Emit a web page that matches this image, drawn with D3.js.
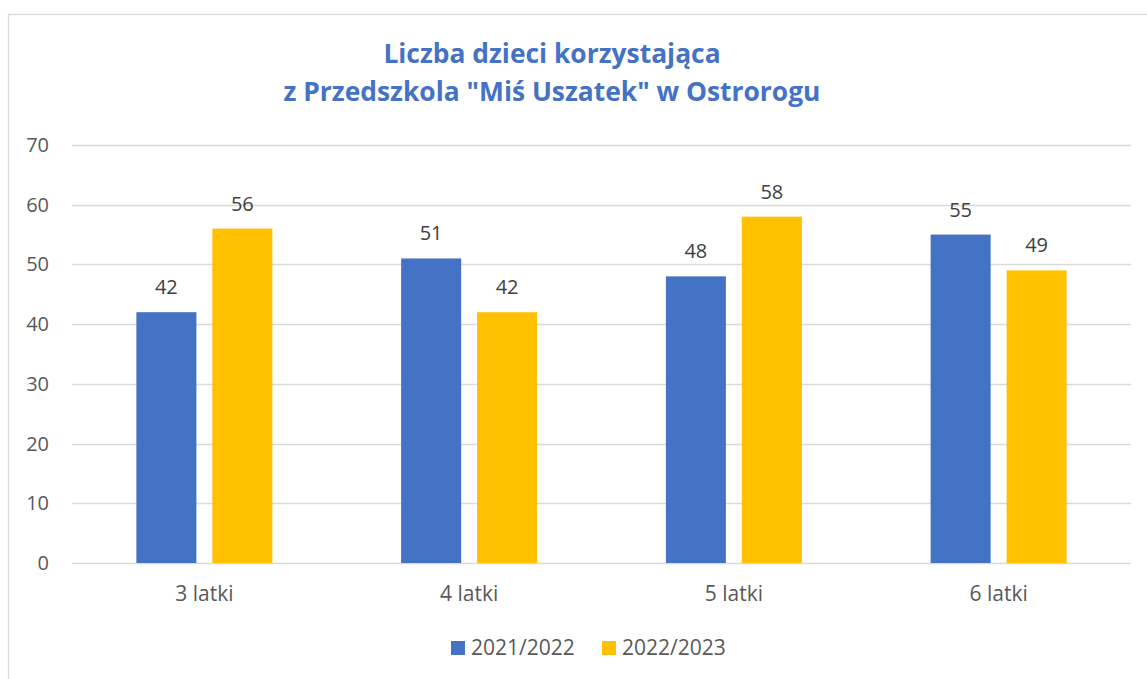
<!DOCTYPE html>
<html>
<head>
<meta charset="utf-8">
<script src="https://cdn.jsdelivr.net/npm/d3@7"></script>
<style>
  body { margin: 0; background: #fff; }
  svg { display: block; font-family: "Open Sans", sans-serif; }
</style>
</head>
<body>
<svg width="1147" height="679"></svg>
<script>
// data
var categories = ["3 latki", "4 latki", "5 latki", "6 latki"];
var seriesNames = ["2021/2022", "2022/2023"];
var values2021 = [42, 51, 48, 55];
var values2022 = [56, 42, 58, 49];
var yTicks = [0, 10, 20, 30, 40, 50, 60, 70];
var titleLines = ["Liczba dzieci korzystająca", "z Przedszkola \"Miś Uszatek\" w Ostrorogu"];

var colors = ["#4472C4", "#FFC000"];
var textColor = "#595959";
var gridColor = "#d9d9d9";

var svg = d3.select("svg");

// chart frame (cut off on the right and bottom)
svg.append("rect")
  .attr("x", 8.5).attr("y", 14.5)
  .attr("width", 1300).attr("height", 800)
  .attr("fill", "none")
  .attr("stroke", gridColor)
  .attr("stroke-width", 1.3);

var plotLeft = 72, plotRight = 1131, plotTop = 145, plotBottom = 563;

var x = d3.scaleBand()
  .domain(categories)
  .range([plotLeft, plotRight]);

// two bars in each group, 60px wide with 16px between
var x1 = d3.scaleBand()
  .domain(seriesNames)
  .range([0, 136])
  .paddingInner(0.21);

var y = d3.scaleLinear()
  .domain([0, 70])
  .range([plotBottom, plotTop]);

// grid
svg.append("g")
  .selectAll("line")
  .data(yTicks)
  .enter().append("line")
  .attr("x1", plotLeft).attr("x2", plotRight)
  .attr("y1", d => Math.round(y(d)) + 0.5)
  .attr("y2", d => Math.round(y(d)) + 0.5)
  .attr("stroke", gridColor)
  .attr("stroke-width", 1.5);

// y labels
svg.append("g")
  .selectAll("text")
  .data(yTicks)
  .enter().append("text")
  .attr("x", 49)
  .attr("y", d => y(d) + 7)
  .attr("text-anchor", "end")
  .attr("fill", textColor)
  .style("font-size", "20px")
  .text(d => d);

// bars
var rows = categories.map(function(c, i) {
  return { cat: c, vals: [values2021[i], values2022[i]] };
});

var groups = svg.append("g")
  .selectAll("g")
  .data(rows)
  .enter().append("g")
  .attr("transform", d => "translate(" + (x(d.cat) + x.bandwidth() / 2 - 68) + ",0)");

groups.selectAll("rect")
  .data(d => d.vals.map((v, j) => ({ name: seriesNames[j], v: v, j: j })))
  .enter().append("rect")
  .attr("x", d => x1(d.name))
  .attr("width", x1.bandwidth())
  .attr("y", d => y(d.v))
  .attr("height", d => y(0) - y(d.v))
  .attr("fill", d => colors[d.j]);

groups.selectAll("text")
  .data(d => d.vals.map((v, j) => ({ name: seriesNames[j], v: v, j: j })))
  .enter().append("text")
  .attr("x", d => x1(d.name) + x1.bandwidth() / 2)
  .attr("y", d => y(d.v) - 18)
  .attr("text-anchor", "middle")
  .attr("fill", "#404040")
  .style("font-size", "20px")
  .text(d => d.v);

// category labels
svg.append("g")
  .selectAll("text")
  .data(categories)
  .enter().append("text")
  .attr("x", d => x(d) + x.bandwidth() / 2)
  .attr("y", 601)
  .attr("text-anchor", "middle")
  .attr("fill", textColor)
  .style("font-size", "21px")
  .text(d => d);

// title
svg.append("g")
  .selectAll("text")
  .data(titleLines)
  .enter().append("text")
  .attr("x", 552)
  .attr("y", (d, i) => 63 + i * 38)
  .attr("text-anchor", "middle")
  .attr("fill", "#4472C4")
  .style("font-size", "26.4px")
  .style("font-weight", "bold")
  .text(d => d);

// legend
var legendX = [451, 602];
var legend = svg.append("g")
  .selectAll("g")
  .data(seriesNames)
  .enter().append("g")
  .attr("transform", (d, i) => "translate(" + legendX[i] + ",641)");

legend.append("rect")
  .attr("width", 14).attr("height", 14)
  .attr("fill", (d, i) => colors[i]);

legend.append("text")
  .attr("x", 20)
  .attr("y", 14)
  .attr("fill", textColor)
  .style("font-size", "21px")
  .text(d => d);
</script>
</body>
</html>
